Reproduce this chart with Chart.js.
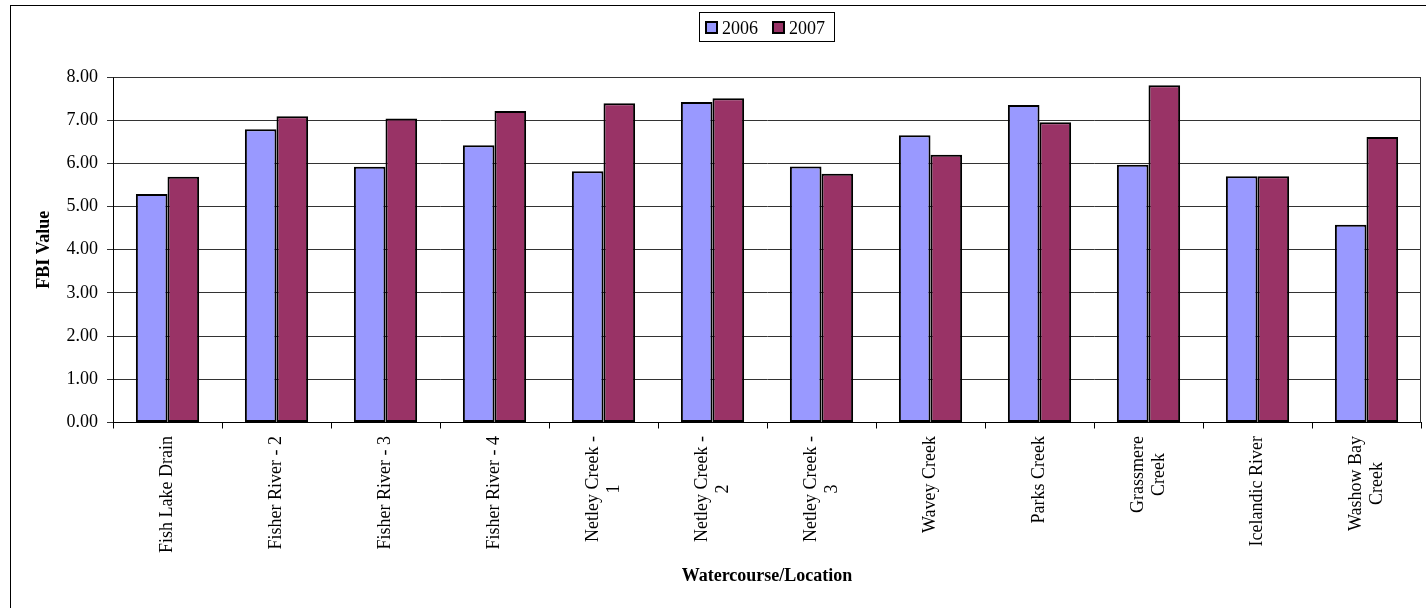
<!DOCTYPE html>
<html>
<head>
<meta charset="utf-8">
<script src="https://cdn.jsdelivr.net/npm/chart.js@4/dist/chart.umd.min.js"></script>
<style>
  html, body { margin: 0; padding: 0; background: #fff; }
  #wrap { width: 1426px; height: 608px; position: relative; }
</style>
</head>
<body>
<div id="wrap"><canvas id="c" width="1426" height="608"></canvas></div>
<script>
const categories = [
  'Fish Lake Drain', 'Fisher River - 2', 'Fisher River - 3', 'Fisher River - 4',
  ['Netley Creek -', '1'], ['Netley Creek -', '2'], ['Netley Creek -', '3'],
  'Wavey Creek', 'Parks Creek', ['Grassmere', 'Creek'], 'Icelandic River', ['Washow Bay', 'Creek']
];
const seriesNames = ['2006', '2007'];
const values2006 = [5.29, 6.79, 5.92, 6.42, 5.82, 7.42, 5.93, 6.65, 7.35, 5.97, 5.70, 4.58];
const values2007 = [5.69, 7.09, 7.04, 7.21, 7.39, 7.51, 5.76, 6.20, 6.95, 7.81, 5.70, 6.61];
const yTicks = [0, 1, 2, 3, 4, 5, 6, 7, 8];
const xTitle = 'Watercourse/Location';
const yTitle = 'FBI Value';

const FONT = "'Liberation Serif', 'Times New Roman', serif";

const decorPlugin = {
  id: 'decor',
  afterDraw(chart) {
    const ctx = chart.ctx;
    const ca = chart.chartArea;
    ctx.save();
    // outer border
    ctx.strokeStyle = '#000';
    ctx.lineWidth = 1;
    ctx.strokeRect(10.5, 5.5, 1430, 620);
    // plot frame
    ctx.strokeStyle = '#333';
    ctx.beginPath();
    ctx.moveTo(Math.round(ca.left) + 0.5, Math.round(ca.top) + 0.5);
    ctx.lineTo(Math.round(ca.right) - 0.5, Math.round(ca.top) + 0.5);
    ctx.lineTo(Math.round(ca.right) - 0.5, Math.round(ca.bottom));
    ctx.stroke();

    // x tick labels: rotated, lines centred on each other
    const xs = chart.scales.x;
    ctx.fillStyle = '#000';
    ctx.font = '18px ' + FONT;
    ctx.textAlign = 'center';
    ctx.textBaseline = 'middle';
    const topY = 436;
    const lh = 21;
    xs.ticks.forEach((t, i) => {
      const lab = chart.data.labels[i];
      const lines = Array.isArray(lab) ? lab : [lab];
      const maxW = Math.max(...lines.map(l => ctx.measureText(l).width));
      const cx = xs.getPixelForTick(i);
      const cy = topY + maxW / 2;
      ctx.save();
      ctx.translate(cx, cy);
      ctx.rotate(-Math.PI / 2);
      lines.forEach((l, j) => {
        ctx.fillText(l, 0, (j - (lines.length - 1) / 2) * lh);
      });
      ctx.restore();
    });

    // legend
    ctx.font = '18px ' + FONT;
    ctx.textAlign = 'left';
    ctx.textBaseline = 'alphabetic';
    const sq = 11, padL = 6.5, padR = 9, gapTxt = 5, gapItem = 15;
    const items = chart.data.datasets.map(d => ({ text: d.label, color: d.backgroundColor, w: ctx.measureText(d.label).width }));
    let total = padL + padR;
    items.forEach((it, k) => { total += sq + gapTxt + it.w + (k < items.length - 1 ? gapItem : 0); });
    const lx = Math.round(766 - total / 2) + 0.5;
    const ly = 12.5, lhgt = 29;
    ctx.fillStyle = '#fff';
    ctx.fillRect(lx, ly, total, lhgt);
    ctx.strokeStyle = '#000';
    ctx.lineWidth = 1;
    ctx.strokeRect(lx, ly, Math.round(total), lhgt);
    let x = lx + padL;
    items.forEach((it, k) => {
      ctx.fillStyle = it.color;
      ctx.fillRect(x, 22, sq, sq);
      ctx.strokeStyle = '#000';
      ctx.lineWidth = 2;
      ctx.strokeRect(x, 22, sq, sq);
      x += sq + gapTxt;
      ctx.fillStyle = '#000';
      ctx.fillText(it.text, x, 34);
      x += it.w + gapItem;
    });
    ctx.restore();
  }
};

new Chart(document.getElementById('c'), {
  type: 'bar',
  data: {
    labels: categories,
    datasets: [
      { label: seriesNames[0], data: values2006, backgroundColor: '#9999FF', borderColor: '#000', borderWidth: 2, borderSkipped: false, inflateAmount: 0 },
      { label: seriesNames[1], data: values2007, backgroundColor: '#993366', borderColor: '#000', borderWidth: 2, borderSkipped: false, inflateAmount: 0 }
    ]
  },
  options: {
    responsive: false,
    animation: false,
    devicePixelRatio: 1,
    layout: { padding: { left: 11, top: 77, right: 5, bottom: 0 } },
    datasets: { bar: { categoryPercentage: 0.58, barPercentage: 1.0 } },
    plugins: {
      legend: { display: false },
      tooltip: { enabled: false },
      title: { display: false }
    },
    scales: {
      x: {
        type: 'category',
        offset: true,
        grid: { offset: true, drawOnChartArea: false, drawTicks: true, tickLength: 6, color: '#000' },
        border: { display: true, color: '#000', width: 1 },
        ticks: { display: false },
        title: { display: true, text: xTitle, color: '#000', font: { family: FONT, size: 18, weight: 'bold' }, padding: { top: 0, bottom: 21 } },
        afterFit(scale) { scale.height = 185.5; }
      },
      y: {
        min: 0, max: 8,
        afterBuildTicks(scale) { scale.ticks = yTicks.map(v => ({ value: v })); },
        grid: { color: '#333', lineWidth: 1, drawTicks: true, tickLength: 6 },
        border: { display: true, color: '#000', width: 1 },
        ticks: { color: '#000', padding: 9, font: { family: FONT, size: 18 }, callback: v => Number(v).toFixed(2) },
        title: { display: true, text: yTitle, color: '#000', font: { family: FONT, size: 18, weight: 'bold' }, padding: { top: 23, bottom: 0 } },
        afterFit(scale) { scale.width = 102; }
      }
    }
  },
  plugins: [decorPlugin]
});
</script>
</body>
</html>
